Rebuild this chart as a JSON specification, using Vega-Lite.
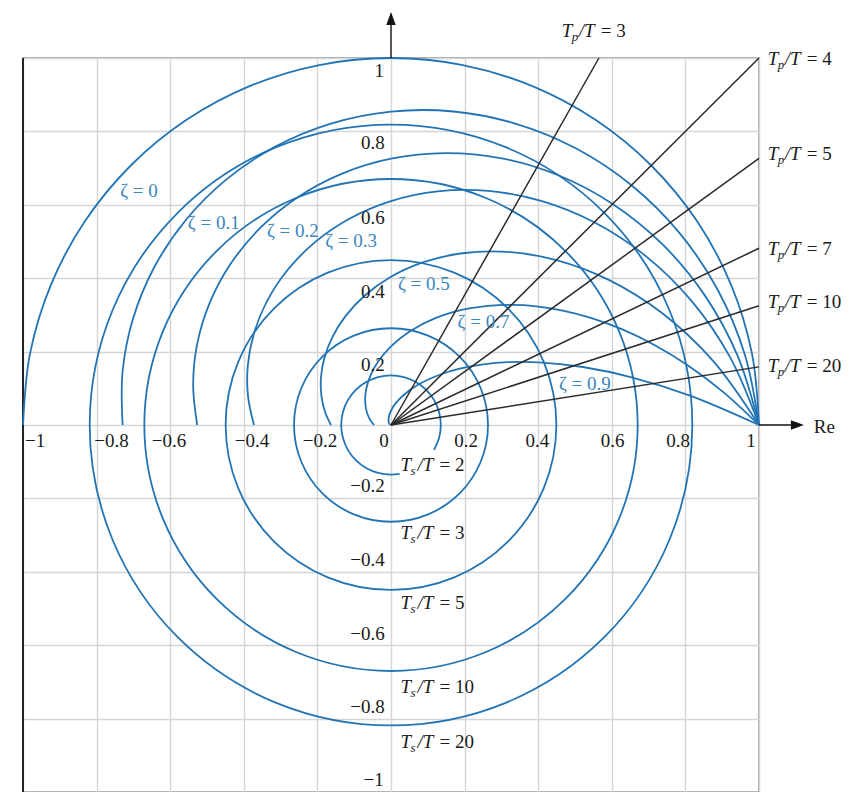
{
  "$schema": "https://vega.github.io/schema/vega-lite/v6.json",
  "width": 736,
  "height": 734,
  "autosize": {"type": "none"},
  "padding": {"left": 23, "top": 58, "right": 103, "bottom": 0},
  "background": "white",
  "config": {
    "view": {"stroke": "#8c8c8c", "strokeWidth": 1.5},
    "axis": {"grid": true, "gridColor": "#d5d5d5", "gridWidth": 1.4, "labels": false, "ticks": false, "domain": false, "tickCount": 10}
  },
  "datasets": {
    "border": [{"x": -1, "y": -1, "y2": 1}],
    "curves": [
      {"c": "z0", "i": 0, "x": 1, "y": 0}, {"c": "z0", "i": 1, "x": 0.98079, "y": 0.19509}, {"c": "z0", "i": 2, "x": 0.92388, "y": 0.38268}, {"c": "z0", "i": 3, "x": 0.83147, "y": 0.55557}, {"c": "z0", "i": 4, "x": 0.70711, "y": 0.70711}, {"c": "z0", "i": 5, "x": 0.55557, "y": 0.83147}, {"c": "z0", "i": 6, "x": 0.38268, "y": 0.92388}, {"c": "z0", "i": 7, "x": 0.19509, "y": 0.98079}, {"c": "z0", "i": 8, "x": 0, "y": 1}, {"c": "z0", "i": 9, "x": -0.19509, "y": 0.98079}, {"c": "z0", "i": 10, "x": -0.38268, "y": 0.92388}, {"c": "z0", "i": 11, "x": -0.55557, "y": 0.83147}, {"c": "z0", "i": 12, "x": -0.70711, "y": 0.70711}, {"c": "z0", "i": 13, "x": -0.83147, "y": 0.55557}, {"c": "z0", "i": 14, "x": -0.92388, "y": 0.38268}, {"c": "z0", "i": 15, "x": -0.98079, "y": 0.19509}, {"c": "z0", "i": 16, "x": -1, "y": 0},
      {"c": "z1", "i": 0, "x": 1, "y": 0}, {"c": "z1", "i": 1, "x": 0.96163, "y": 0.19128}, {"c": "z1", "i": 2, "x": 0.88813, "y": 0.36787}, {"c": "z1", "i": 3, "x": 0.78367, "y": 0.52364}, {"c": "z1", "i": 4, "x": 0.65344, "y": 0.65344}, {"c": "z1", "i": 5, "x": 0.50337, "y": 0.75334}, {"c": "z1", "i": 6, "x": 0.33995, "y": 0.82071}, {"c": "z1", "i": 7, "x": 0.16992, "y": 0.85425}, {"c": "z1", "i": 8, "x": 0, "y": 0.85396}, {"c": "z1", "i": 9, "x": -0.16334, "y": 0.82119}, {"c": "z1", "i": 10, "x": -0.31415, "y": 0.75842}, {"c": "z1", "i": 11, "x": -0.44716, "y": 0.66923}, {"c": "z1", "i": 12, "x": -0.55801, "y": 0.55801}, {"c": "z1", "i": 13, "x": -0.64332, "y": 0.42986}, {"c": "z1", "i": 14, "x": -0.70085, "y": 0.2903}, {"c": "z1", "i": 15, "x": -0.72949, "y": 0.1451}, {"c": "z1", "i": 16, "x": -0.72924, "y": 0},
      {"c": "z2", "i": 0, "x": 1, "y": 0}, {"c": "z2", "i": 1, "x": 0.94226, "y": 0.18742}, {"c": "z2", "i": 2, "x": 0.85271, "y": 0.3532}, {"c": "z2", "i": 3, "x": 0.73727, "y": 0.49263}, {"c": "z2", "i": 4, "x": 0.60237, "y": 0.60237}, {"c": "z2", "i": 5, "x": 0.45468, "y": 0.68047}, {"c": "z2", "i": 6, "x": 0.30088, "y": 0.7264}, {"c": "z2", "i": 7, "x": 0.14736, "y": 0.74085}, {"c": "z2", "i": 8, "x": 0, "y": 0.72568}, {"c": "z2", "i": 9, "x": -0.13601, "y": 0.68378}, {"c": "z2", "i": 10, "x": -0.25631, "y": 0.6188}, {"c": "z2", "i": 11, "x": -0.35749, "y": 0.53502}, {"c": "z2", "i": 12, "x": -0.43712, "y": 0.43712}, {"c": "z2", "i": 13, "x": -0.49381, "y": 0.32995}, {"c": "z2", "i": 14, "x": -0.52713, "y": 0.21834}, {"c": "z2", "i": 15, "x": -0.53762, "y": 0.10694}, {"c": "z2", "i": 16, "x": -0.52661, "y": 0},
      {"c": "z3", "i": 0, "x": 1, "y": 0}, {"c": "z3", "i": 1, "x": 0.92206, "y": 0.18341}, {"c": "z3", "i": 2, "x": 0.81655, "y": 0.33822}, {"c": "z3", "i": 3, "x": 0.69087, "y": 0.46162}, {"c": "z3", "i": 4, "x": 0.55236, "y": 0.55236}, {"c": "z3", "i": 5, "x": 0.40799, "y": 0.61061}, {"c": "z3", "i": 6, "x": 0.2642, "y": 0.63785}, {"c": "z3", "i": 7, "x": 0.12662, "y": 0.63659}, {"c": "z3", "i": 8, "x": 0, "y": 0.61019}, {"c": "z3", "i": 9, "x": -0.11191, "y": 0.56263}, {"c": "z3", "i": 10, "x": -0.20638, "y": 0.49825}, {"c": "z3", "i": 11, "x": -0.28168, "y": 0.42156}, {"c": "z3", "i": 12, "x": -0.33704, "y": 0.33704}, {"c": "z3", "i": 13, "x": -0.37259, "y": 0.24896}, {"c": "z3", "i": 14, "x": -0.38921, "y": 0.16122}, {"c": "z3", "i": 15, "x": -0.38844, "y": 0.07727}, {"c": "z3", "i": 16, "x": -0.37234, "y": 0},
      {"c": "z5", "i": 0, "x": 1, "y": 0}, {"c": "z5", "i": 1, "x": 0.87568, "y": 0.17418}, {"c": "z5", "i": 2, "x": 0.73646, "y": 0.30505}, {"c": "z5", "i": 3, "x": 0.59176, "y": 0.3954}, {"c": "z5", "i": 4, "x": 0.44932, "y": 0.44932}, {"c": "z5", "i": 5, "x": 0.31519, "y": 0.47172}, {"c": "z5", "i": 6, "x": 0.19384, "y": 0.46797}, {"c": "z5", "i": 7, "x": 0.08823, "y": 0.44355}, {"c": "z5", "i": 8, "x": 0, "y": 0.40377}, {"c": "z5", "i": 9, "x": -0.07033, "y": 0.35357}, {"c": "z5", "i": 10, "x": -0.12317, "y": 0.29736}, {"c": "z5", "i": 11, "x": -0.15965, "y": 0.23893}, {"c": "z5", "i": 12, "x": -0.18142, "y": 0.18142}, {"c": "z5", "i": 13, "x": -0.19046, "y": 0.12726}, {"c": "z5", "i": 14, "x": -0.18895, "y": 0.07827}, {"c": "z5", "i": 15, "x": -0.17909, "y": 0.03562}, {"c": "z5", "i": 16, "x": -0.16303, "y": 0},
      {"c": "z7", "i": 0, "x": 1, "y": 0}, {"c": "z7", "i": 0.5, "x": 0.90388, "y": 0.08903}, {"c": "z7", "i": 1, "x": 0.80908, "y": 0.16094}, {"c": "z7", "i": 1.5, "x": 0.71699, "y": 0.21749}, {"c": "z7", "i": 2, "x": 0.6287, "y": 0.26041}, {"c": "z7", "i": 2.5, "x": 0.54509, "y": 0.29136}, {"c": "z7", "i": 3, "x": 0.46676, "y": 0.31188}, {"c": "z7", "i": 3.5, "x": 0.39413, "y": 0.32346}, {"c": "z7", "i": 4, "x": 0.32745, "y": 0.32745}, {"c": "z7", "i": 5, "x": 0.21223, "y": 0.31763}, {"c": "z7", "i": 6, "x": 0.12059, "y": 0.29114}, {"c": "z7", "i": 7, "x": 0.05072, "y": 0.25497}, {"c": "z7", "i": 8, "x": 0, "y": 0.21445}, {"c": "z7", "i": 9, "x": -0.03451, "y": 0.1735}, {"c": "z7", "i": 10, "x": -0.05584, "y": 0.13482}, {"c": "z7", "i": 11, "x": -0.06688, "y": 0.10009}, {"c": "z7", "i": 12, "x": -0.07022, "y": 0.07022}, {"c": "z7", "i": 13, "x": -0.06811, "y": 0.04551}, {"c": "z7", "i": 14, "x": -0.06244, "y": 0.02586}, {"c": "z7", "i": 15, "x": -0.05468, "y": 0.01088}, {"c": "z7", "i": 16, "x": -0.04599, "y": 0},
      {"c": "z9", "i": 0, "x": 1, "y": 0}, {"c": "z9", "i": 0.5, "x": 0.81258, "y": 0.08003}, {"c": "z9", "i": 1, "x": 0.65389, "y": 0.13007}, {"c": "z9", "i": 1.5, "x": 0.52093, "y": 0.15802}, {"c": "z9", "i": 2, "x": 0.41066, "y": 0.1701}, {"c": "z9", "i": 2.5, "x": 0.32008, "y": 0.17109}, {"c": "z9", "i": 3, "x": 0.2464, "y": 0.16464}, {"c": "z9", "i": 3.5, "x": 0.18705, "y": 0.1535}, {"c": "z9", "i": 4, "x": 0.1397, "y": 0.1397}, {"c": "z9", "i": 5, "x": 0.07318, "y": 0.10952}, {"c": "z9", "i": 6, "x": 0.03361, "y": 0.08114}, {"c": "z9", "i": 7, "x": 0.01142, "y": 0.05743}, {"c": "z9", "i": 8, "x": 0, "y": 0.03903}, {"c": "z9", "i": 9, "x": -0.00508, "y": 0.02552}, {"c": "z9", "i": 10, "x": -0.00664, "y": 0.01603}, {"c": "z9", "i": 11, "x": -0.00643, "y": 0.00962}, {"c": "z9", "i": 12, "x": -0.00545, "y": 0.00545}, {"c": "z9", "i": 16, "x": -0.0015, "y": 0},
      {"c": "ts2", "i": 0, "x": 0.11721, "y": -0.06767}, {"c": "ts2", "i": 1, "x": 0.13073, "y": -0.03503}, {"c": "ts2", "i": 2, "x": 0.13534, "y": 0}, {"c": "ts2", "i": 3, "x": 0.13073, "y": 0.03503}, {"c": "ts2", "i": 4, "x": 0.11721, "y": 0.06767}, {"c": "ts2", "i": 5, "x": 0.0957, "y": 0.0957}, {"c": "ts2", "i": 6, "x": 0.06767, "y": 0.11721}, {"c": "ts2", "i": 7, "x": 0.03503, "y": 0.13073}, {"c": "ts2", "i": 8, "x": 0, "y": 0.13534}, {"c": "ts2", "i": 9, "x": -0.03503, "y": 0.13073}, {"c": "ts2", "i": 10, "x": -0.06767, "y": 0.11721}, {"c": "ts2", "i": 11, "x": -0.0957, "y": 0.0957}, {"c": "ts2", "i": 12, "x": -0.11721, "y": 0.06767}, {"c": "ts2", "i": 13, "x": -0.13073, "y": 0.03503}, {"c": "ts2", "i": 14, "x": -0.13534, "y": 0}, {"c": "ts2", "i": 15, "x": -0.13073, "y": -0.03503}, {"c": "ts2", "i": 16, "x": -0.11721, "y": -0.06767}, {"c": "ts2", "i": 17, "x": -0.0957, "y": -0.0957}, {"c": "ts2", "i": 18, "x": -0.06767, "y": -0.11721}, {"c": "ts2", "i": 19, "x": -0.03503, "y": -0.13073}, {"c": "ts2", "i": 20, "x": 0, "y": -0.13534}, {"c": "ts2", "i": 20.67, "x": 0.0235, "y": -0.13328}
    ],
    "circles": [
      {"c": "ts3", "i": 0, "x": 0.2636, "y": 0}, {"c": "ts3", "i": 1, "x": 0.24353, "y": 0.10087}, {"c": "ts3", "i": 2, "x": 0.18639, "y": 0.18639}, {"c": "ts3", "i": 3, "x": 0.10087, "y": 0.24353}, {"c": "ts3", "i": 4, "x": 0, "y": 0.2636}, {"c": "ts3", "i": 5, "x": -0.10087, "y": 0.24353}, {"c": "ts3", "i": 6, "x": -0.18639, "y": 0.18639}, {"c": "ts3", "i": 7, "x": -0.24353, "y": 0.10087}, {"c": "ts3", "i": 8, "x": -0.2636, "y": 0}, {"c": "ts3", "i": 9, "x": -0.24353, "y": -0.10087}, {"c": "ts3", "i": 10, "x": -0.18639, "y": -0.18639}, {"c": "ts3", "i": 11, "x": -0.10087, "y": -0.24353}, {"c": "ts3", "i": 12, "x": 0, "y": -0.2636}, {"c": "ts3", "i": 13, "x": 0.10087, "y": -0.24353}, {"c": "ts3", "i": 14, "x": 0.18639, "y": -0.18639}, {"c": "ts3", "i": 15, "x": 0.24353, "y": -0.10087},
      {"c": "ts5", "i": 0, "x": 0.44933, "y": 0}, {"c": "ts5", "i": 1, "x": 0.41513, "y": 0.17195}, {"c": "ts5", "i": 2, "x": 0.31773, "y": 0.31773}, {"c": "ts5", "i": 3, "x": 0.17195, "y": 0.41513}, {"c": "ts5", "i": 4, "x": 0, "y": 0.44933}, {"c": "ts5", "i": 5, "x": -0.17195, "y": 0.41513}, {"c": "ts5", "i": 6, "x": -0.31773, "y": 0.31773}, {"c": "ts5", "i": 7, "x": -0.41513, "y": 0.17195}, {"c": "ts5", "i": 8, "x": -0.44933, "y": 0}, {"c": "ts5", "i": 9, "x": -0.41513, "y": -0.17195}, {"c": "ts5", "i": 10, "x": -0.31773, "y": -0.31773}, {"c": "ts5", "i": 11, "x": -0.17195, "y": -0.41513}, {"c": "ts5", "i": 12, "x": 0, "y": -0.44933}, {"c": "ts5", "i": 13, "x": 0.17195, "y": -0.41513}, {"c": "ts5", "i": 14, "x": 0.31773, "y": -0.31773}, {"c": "ts5", "i": 15, "x": 0.41513, "y": -0.17195},
      {"c": "ts10", "i": 0, "x": 0.67032, "y": 0}, {"c": "ts10", "i": 1, "x": 0.6193, "y": 0.25652}, {"c": "ts10", "i": 2, "x": 0.47399, "y": 0.47399}, {"c": "ts10", "i": 3, "x": 0.25652, "y": 0.6193}, {"c": "ts10", "i": 4, "x": 0, "y": 0.67032}, {"c": "ts10", "i": 5, "x": -0.25652, "y": 0.6193}, {"c": "ts10", "i": 6, "x": -0.47399, "y": 0.47399}, {"c": "ts10", "i": 7, "x": -0.6193, "y": 0.25652}, {"c": "ts10", "i": 8, "x": -0.67032, "y": 0}, {"c": "ts10", "i": 9, "x": -0.6193, "y": -0.25652}, {"c": "ts10", "i": 10, "x": -0.47399, "y": -0.47399}, {"c": "ts10", "i": 11, "x": -0.25652, "y": -0.6193}, {"c": "ts10", "i": 12, "x": 0, "y": -0.67032}, {"c": "ts10", "i": 13, "x": 0.25652, "y": -0.6193}, {"c": "ts10", "i": 14, "x": 0.47399, "y": -0.47399}, {"c": "ts10", "i": 15, "x": 0.6193, "y": -0.25652},
      {"c": "ts20", "i": 0, "x": 0.81873, "y": 0}, {"c": "ts20", "i": 1, "x": 0.75641, "y": 0.31331}, {"c": "ts20", "i": 2, "x": 0.57893, "y": 0.57893}, {"c": "ts20", "i": 3, "x": 0.31331, "y": 0.75641}, {"c": "ts20", "i": 4, "x": 0, "y": 0.81873}, {"c": "ts20", "i": 5, "x": -0.31331, "y": 0.75641}, {"c": "ts20", "i": 6, "x": -0.57893, "y": 0.57893}, {"c": "ts20", "i": 7, "x": -0.75641, "y": 0.31331}, {"c": "ts20", "i": 8, "x": -0.81873, "y": 0}, {"c": "ts20", "i": 9, "x": -0.75641, "y": -0.31331}, {"c": "ts20", "i": 10, "x": -0.57893, "y": -0.57893}, {"c": "ts20", "i": 11, "x": -0.31331, "y": -0.75641}, {"c": "ts20", "i": 12, "x": 0, "y": -0.81873}, {"c": "ts20", "i": 13, "x": 0.31331, "y": -0.75641}, {"c": "ts20", "i": 14, "x": 0.57893, "y": -0.57893}, {"c": "ts20", "i": 15, "x": 0.75641, "y": -0.31331}
    ],
    "rays": [
      {"x": 0, "y": 0, "x2": 0.565, "y2": 1},
      {"x": 0, "y": 0, "x2": 1, "y2": 1},
      {"x": 0, "y": 0, "x2": 1, "y2": 0.72654},
      {"x": 0, "y": 0, "x2": 1, "y2": 0.48157},
      {"x": 0, "y": 0, "x2": 1, "y2": 0.32492},
      {"x": 0, "y": 0, "x2": 1, "y2": 0.15838}
    ],
    "axlines": [
      {"x": 0, "y": 1, "x2": 0, "y2": 1.106},
      {"x": 1, "y": 0, "x2": 1.103, "y2": 0}
    ],
    "heads": [
      {"x": 0, "y": 1.106, "d": "up"},
      {"x": 1.103, "y": 0, "d": "right"}
    ],
    "xticks": [
      {"x": -0.967, "y": -0.059, "t": "−1"}, {"x": -0.7595, "y": -0.059, "t": "−0.8"}, {"x": -0.603, "y": -0.059, "t": "−0.6"}, {"x": -0.378, "y": -0.059, "t": "−0.4"}, {"x": -0.193, "y": -0.059, "t": "−0.2"}, {"x": -0.019, "y": -0.059, "t": "0"}, {"x": 0.204, "y": -0.059, "t": "0.2"}, {"x": 0.398, "y": -0.059, "t": "0.4"}, {"x": 0.602, "y": -0.059, "t": "0.6"}, {"x": 0.78, "y": -0.059, "t": "0.8"}, {"x": 0.978, "y": -0.059, "t": "1"}
    ],
    "yticks": [
      {"x": -0.019, "y": 0.949, "t": "1"}, {"x": -0.017, "y": 0.751, "t": "0.8"}, {"x": -0.017, "y": 0.547, "t": "0.6"}, {"x": -0.017, "y": 0.347, "t": "0.4"}, {"x": -0.017, "y": 0.147, "t": "0.2"}, {"x": -0.017, "y": -0.183, "t": "−0.2"}, {"x": -0.017, "y": -0.384, "t": "−0.4"}, {"x": -0.017, "y": -0.587, "t": "−0.6"}, {"x": -0.017, "y": -0.785, "t": "−0.8"}, {"x": -0.02, "y": -0.985, "t": "−1"}
    ],
    "zlabels": [
      {"x": -0.736, "y": 0.622, "t": "ζ = 0"},
      {"x": -0.552, "y": 0.533, "t": "ζ = 0.1"},
      {"x": -0.337, "y": 0.511, "t": "ζ = 0.2"},
      {"x": -0.179, "y": 0.484, "t": "ζ = 0.3"},
      {"x": 0.019, "y": 0.368, "t": "ζ = 0.5"},
      {"x": 0.181, "y": 0.2635, "t": "ζ = 0.7"},
      {"x": 0.4565, "y": 0.095, "t": "ζ = 0.9"}
    ],
    "tlabels": [
      {"x": 0.464, "y": 1.056, "s": "p", "n": "= 3"},
      {"x": 1.024, "y": 0.981, "s": "p", "n": "= 4"},
      {"x": 1.024, "y": 0.722, "s": "p", "n": "= 5"},
      {"x": 1.024, "y": 0.463, "s": "p", "n": "= 7"},
      {"x": 1.024, "y": 0.319, "s": "p", "n": "= 10"},
      {"x": 1.024, "y": 0.145, "s": "p", "n": "= 20"},
      {"x": 0.026, "y": -0.124, "s": "s", "n": "= 2"},
      {"x": 0.026, "y": -0.311, "s": "s", "n": "= 3"},
      {"x": 0.026, "y": -0.501, "s": "s", "n": "= 5"},
      {"x": 0.026, "y": -0.731, "s": "s", "n": "= 10"},
      {"x": 0.026, "y": -0.881, "s": "s", "n": "= 20"}
    ],
    "re": [{"x": 1.149, "y": -0.021, "t": "Re"}]
  },
  "encoding": {
    "x": {"field": "x", "type": "quantitative", "title": null, "scale": {"domain": [-1, 1], "nice": false, "zero": false}},
    "y": {"field": "y", "type": "quantitative", "title": null, "scale": {"domain": [-1, 1], "nice": false, "zero": false}}
  },
  "layer": [
    {
      "data": {"name": "border"},
      "mark": {"type": "rule", "color": "#111111", "strokeWidth": 1.8},
      "encoding": {"y2": {"field": "y2"}}
    },
    {
      "data": {"name": "curves"},
      "mark": {"type": "line", "interpolate": "catmull-rom", "color": "#2374b4", "strokeWidth": 1.8},
      "encoding": {"detail": {"field": "c"}, "order": {"field": "i", "type": "quantitative"}}
    },
    {
      "data": {"name": "circles"},
      "mark": {"type": "line", "interpolate": "cardinal-closed", "color": "#2374b4", "strokeWidth": 1.8},
      "encoding": {"detail": {"field": "c"}, "order": {"field": "i", "type": "quantitative"}}
    },
    {
      "data": {"name": "rays"},
      "mark": {"type": "rule", "color": "#2a2a2a", "strokeWidth": 1.5},
      "encoding": {"x2": {"field": "x2"}, "y2": {"field": "y2"}}
    },
    {
      "data": {"name": "axlines"},
      "mark": {"type": "rule", "color": "#111111", "strokeWidth": 1.4},
      "encoding": {"x2": {"field": "x2"}, "y2": {"field": "y2"}}
    },
    {
      "data": {"name": "heads"},
      "mark": {"type": "point", "filled": true, "color": "#111111", "size": 196, "opacity": 1},
      "encoding": {
        "shape": {"field": "d", "type": "nominal", "legend": null, "scale": {"domain": ["up", "right"], "range": ["M0,-1L0.67,0.86L-0.67,0.86Z", "M1,0L-0.86,0.67L-0.86,-0.67Z"]}}
      }
    },
    {
      "data": {"name": "xticks"},
      "mark": {"type": "text", "align": "center", "baseline": "alphabetic", "font": "Liberation Serif", "fontSize": 19, "color": "#1a1a1a"},
      "encoding": {"text": {"field": "t"}}
    },
    {
      "data": {"name": "yticks"},
      "mark": {"type": "text", "align": "right", "baseline": "alphabetic", "font": "Liberation Serif", "fontSize": 19, "color": "#1a1a1a"},
      "encoding": {"text": {"field": "t"}}
    },
    {
      "data": {"name": "zlabels"},
      "mark": {"type": "text", "align": "left", "baseline": "alphabetic", "font": "Liberation Serif", "fontSize": 19, "color": "#3a86bd"},
      "encoding": {"text": {"field": "t"}}
    },
    {
      "data": {"name": "tlabels"},
      "mark": {"type": "text", "text": "T", "align": "left", "baseline": "alphabetic", "font": "Liberation Serif", "fontStyle": "italic", "fontSize": 19, "color": "#1a1a1a"}
    },
    {
      "data": {"name": "tlabels"},
      "mark": {"type": "text", "align": "left", "baseline": "alphabetic", "dx": 10, "dy": 4, "font": "Liberation Serif", "fontStyle": "italic", "fontSize": 13, "color": "#1a1a1a"},
      "encoding": {"text": {"field": "s"}}
    },
    {
      "data": {"name": "tlabels"},
      "mark": {"type": "text", "text": "/T", "align": "left", "baseline": "alphabetic", "dx": 17, "font": "Liberation Serif", "fontStyle": "italic", "fontSize": 19, "color": "#1a1a1a"}
    },
    {
      "data": {"name": "tlabels"},
      "mark": {"type": "text", "align": "left", "baseline": "alphabetic", "dx": 39, "font": "Liberation Serif", "fontSize": 19, "color": "#1a1a1a"},
      "encoding": {"text": {"field": "n"}}
    },
    {
      "data": {"name": "re"},
      "mark": {"type": "text", "align": "left", "baseline": "alphabetic", "font": "Liberation Serif", "fontSize": 19, "color": "#1a1a1a"},
      "encoding": {"text": {"field": "t"}}
    }
  ]
}
